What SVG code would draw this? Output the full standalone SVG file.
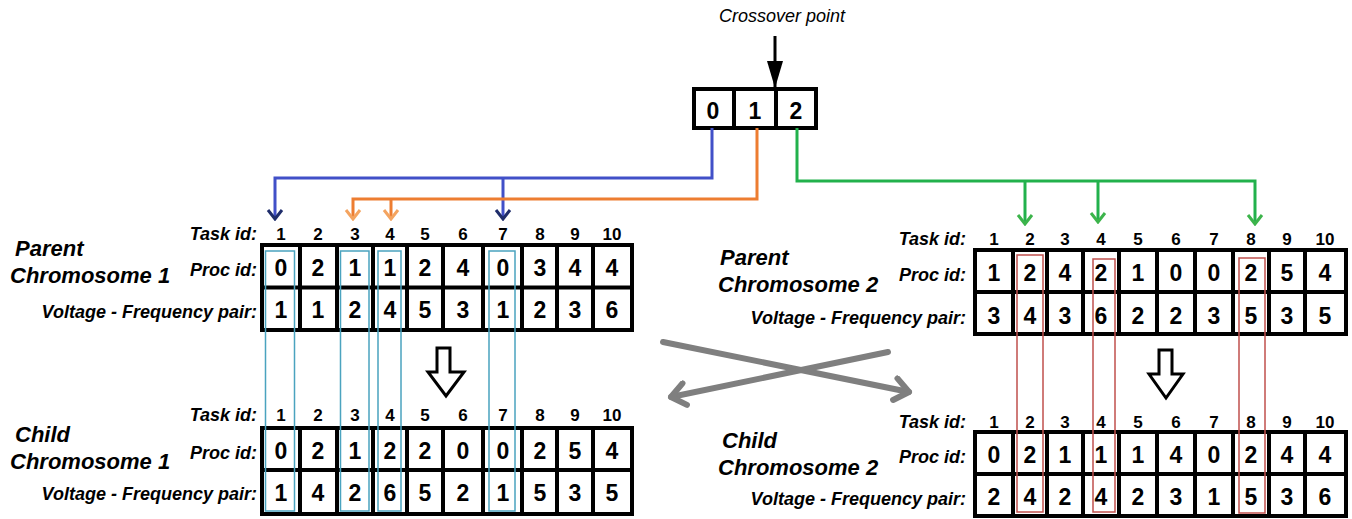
<svg xmlns="http://www.w3.org/2000/svg" width="1352" height="519" viewBox="0 0 1352 519">
<style>
text{font-family:"Liberation Sans",Arial,sans-serif;fill:#000}
.lbl{font-size:18px;font-weight:bold;font-style:italic;text-anchor:end}
.title{font-size:22px;font-weight:bold;font-style:italic}
.hd{font-size:17px;font-weight:bold;text-anchor:middle}
.cv{font-size:23px;font-weight:bold;text-anchor:middle}
.grid{fill:#fff;stroke:#000;stroke-width:4}
.gl{stroke:#000;stroke-width:4}
.cy{fill:none;stroke:#4aa3bf;stroke-width:1.5}
.rd{fill:none;stroke:#c0504d;stroke-width:1.5}
.blk{fill:#fff;stroke:#000;stroke-width:3;stroke-linejoin:miter}
.gr{stroke:#7f7f7f;stroke-width:6;stroke-linecap:round;fill:none}
</style>
<defs>
<marker id="mNavy" markerUnits="userSpaceOnUse" viewBox="-12 -9 14 18" refX="0" refY="0" markerWidth="14" markerHeight="18" orient="auto"><path d="M-9,-7 L0,0 L-9,7" fill="none" stroke="#1f2d6b" stroke-width="3"/></marker>
<marker id="mOr" markerUnits="userSpaceOnUse" viewBox="-12 -9 14 18" refX="0" refY="0" markerWidth="14" markerHeight="18" orient="auto"><path d="M-9,-7 L0,0 L-9,7" fill="none" stroke="#f4a460" stroke-width="3"/></marker>
<marker id="mGr" markerUnits="userSpaceOnUse" viewBox="-12 -9 14 18" refX="0" refY="0" markerWidth="14" markerHeight="18" orient="auto"><path d="M-9,-7 L0,0 L-9,7" fill="none" stroke="#3cb44b" stroke-width="3"/></marker>
<marker id="mBlack" markerUnits="userSpaceOnUse" viewBox="-28 -9 30 18" refX="0" refY="0" markerWidth="30" markerHeight="18" orient="auto"><path d="M-27,-8 L0,0 L-27,8 Z" fill="#000"/></marker>
<marker id="mGrey" markerUnits="userSpaceOnUse" viewBox="-20 -14 24 28" refX="0" refY="0" markerWidth="24" markerHeight="28" orient="auto"><path d="M-14,-11 L0,0 L-14,11" fill="none" stroke="#7f7f7f" stroke-width="6" stroke-linecap="round" stroke-linejoin="round"/></marker>
</defs>

<g id="crossover">
<text x="782" y="22" style="font-size:18px;font-style:italic;text-anchor:middle">Crossover point</text>
<rect x="694" y="89" width="122" height="39" class="grid"/>
<line x1="734" y1="89" x2="734" y2="128" class="gl"/>
<line x1="776" y1="89" x2="776" y2="128" class="gl"/>
<text x="713" y="119" class="cv">0</text>
<text x="755" y="119" class="cv">1</text>
<text x="796" y="119" class="cv">2</text>
</g>

<g id="connectors">
<line x1="775" y1="36" x2="775" y2="88" stroke="#000" stroke-width="3" marker-end="url(#mBlack)"/>
<path d="M712,128 V178 H275 V219" fill="none" stroke="#4150c8" stroke-width="3" marker-end="url(#mNavy)"/>
<path d="M503,178 V219" fill="none" stroke="#4150c8" stroke-width="3" marker-end="url(#mNavy)"/>
<path d="M757,128 V199 H353 V219" fill="none" stroke="#ed7d31" stroke-width="3" marker-end="url(#mOr)"/>
<path d="M391,199 V219" fill="none" stroke="#ed7d31" stroke-width="3" marker-end="url(#mOr)"/>
<path d="M797,128 V181 H1255 V224" fill="none" stroke="#22b14c" stroke-width="3" marker-end="url(#mGr)"/>
<path d="M1025,181 V224" fill="none" stroke="#22b14c" stroke-width="3" marker-end="url(#mGr)"/>
<path d="M1098,181 V222" fill="none" stroke="#22b14c" stroke-width="3" marker-end="url(#mGr)"/>
<line x1="663" y1="342" x2="909" y2="392" class="gr" marker-end="url(#mGrey)"/>
<line x1="888" y1="352" x2="671" y2="397" class="gr" marker-end="url(#mGrey)"/>
</g>

<g id="parent1">
<text x="15" y="256" class="title">Parent</text>
<text x="10" y="283" class="title">Chromosome 1</text>
<text x="257" y="240" class="lbl">Task id:</text>
<text x="257" y="276" class="lbl">Proc id:</text>
<text x="257" y="318" class="lbl">Voltage - Frequency pair:</text>
<text x="281" y="240" class="hd">1</text><text x="318" y="240" class="hd">2</text><text x="355" y="240" class="hd">3</text><text x="390" y="240" class="hd">4</text><text x="425" y="240" class="hd">5</text><text x="463" y="240" class="hd">6</text><text x="503" y="240" class="hd">7</text><text x="540" y="240" class="hd">8</text><text x="575" y="240" class="hd">9</text><text x="612" y="240" class="hd">10</text>
<rect x="262" y="245" width="370" height="85" class="grid"/>
<path d="M262,287.5 H632 M300,245 V330 M337,245 V330 M373,245 V330 M407,245 V330 M443,245 V330 M483,245 V330 M522,245 V330 M557,245 V330 M593,245 V330" class="gl"/>
<text x="281" y="276" class="cv">0</text><text x="318" y="276" class="cv">2</text><text x="355" y="276" class="cv">1</text><text x="390" y="276" class="cv">1</text><text x="425" y="276" class="cv">2</text><text x="463" y="276" class="cv">4</text><text x="503" y="276" class="cv">0</text><text x="540" y="276" class="cv">3</text><text x="575" y="276" class="cv">4</text><text x="612" y="276" class="cv">4</text>
<text x="281" y="318" class="cv">1</text><text x="318" y="318" class="cv">1</text><text x="355" y="318" class="cv">2</text><text x="390" y="318" class="cv">4</text><text x="425" y="318" class="cv">5</text><text x="463" y="318" class="cv">3</text><text x="503" y="318" class="cv">1</text><text x="540" y="318" class="cv">2</text><text x="575" y="318" class="cv">3</text><text x="612" y="318" class="cv">6</text>
</g>

<g id="child1">
<text x="15" y="442" class="title">Child</text>
<text x="10" y="469" class="title">Chromosome 1</text>
<text x="257" y="421" class="lbl">Task id:</text>
<text x="257" y="459" class="lbl">Proc id:</text>
<text x="257" y="500" class="lbl">Voltage - Frequency pair:</text>
<text x="281" y="421" class="hd">1</text><text x="318" y="421" class="hd">2</text><text x="355" y="421" class="hd">3</text><text x="390" y="421" class="hd">4</text><text x="425" y="421" class="hd">5</text><text x="463" y="421" class="hd">6</text><text x="503" y="421" class="hd">7</text><text x="540" y="421" class="hd">8</text><text x="575" y="421" class="hd">9</text><text x="612" y="421" class="hd">10</text>
<rect x="262" y="428" width="370" height="86" class="grid"/>
<path d="M262,470 H632 M300,428 V514 M337,428 V514 M373,428 V514 M407,428 V514 M443,428 V514 M483,428 V514 M522,428 V514 M557,428 V514 M593,428 V514" class="gl"/>
<text x="281" y="459" class="cv">0</text><text x="318" y="459" class="cv">2</text><text x="355" y="459" class="cv">1</text><text x="390" y="459" class="cv">2</text><text x="425" y="459" class="cv">2</text><text x="463" y="459" class="cv">0</text><text x="503" y="459" class="cv">0</text><text x="540" y="459" class="cv">2</text><text x="575" y="459" class="cv">5</text><text x="612" y="459" class="cv">4</text>
<text x="281" y="501" class="cv">1</text><text x="318" y="501" class="cv">4</text><text x="355" y="501" class="cv">2</text><text x="390" y="501" class="cv">6</text><text x="425" y="501" class="cv">5</text><text x="463" y="501" class="cv">2</text><text x="503" y="501" class="cv">1</text><text x="540" y="501" class="cv">5</text><text x="575" y="501" class="cv">3</text><text x="612" y="501" class="cv">5</text>
</g>

<g id="parent2">
<text x="720" y="265" class="title">Parent</text>
<text x="718" y="292" class="title">Chromosome 2</text>
<text x="966" y="245" class="lbl">Task id:</text>
<text x="966" y="281" class="lbl">Proc id:</text>
<text x="966" y="324" class="lbl">Voltage - Frequency pair:</text>
<text x="994" y="245" class="hd">1</text><text x="1030" y="245" class="hd">2</text><text x="1065" y="245" class="hd">3</text><text x="1101" y="245" class="hd">4</text><text x="1138" y="245" class="hd">5</text><text x="1176" y="245" class="hd">6</text><text x="1214" y="245" class="hd">7</text><text x="1251" y="245" class="hd">8</text><text x="1287" y="245" class="hd">9</text><text x="1325" y="245" class="hd">10</text>
<rect x="975" y="250" width="371" height="84" class="grid"/>
<path d="M975,292 H1346 M1013,250 V334 M1047,250 V334 M1083,250 V334 M1119,250 V334 M1157,250 V334 M1195,250 V334 M1233,250 V334 M1269,250 V334 M1305,250 V334" class="gl"/>
<text x="994" y="281" class="cv">1</text><text x="1030" y="281" class="cv">2</text><text x="1065" y="281" class="cv">4</text><text x="1101" y="281" class="cv">2</text><text x="1138" y="281" class="cv">1</text><text x="1176" y="281" class="cv">0</text><text x="1214" y="281" class="cv">0</text><text x="1251" y="281" class="cv">2</text><text x="1287" y="281" class="cv">5</text><text x="1325" y="281" class="cv">4</text>
<text x="994" y="324" class="cv">3</text><text x="1030" y="324" class="cv">4</text><text x="1065" y="324" class="cv">3</text><text x="1101" y="324" class="cv">6</text><text x="1138" y="324" class="cv">2</text><text x="1176" y="324" class="cv">2</text><text x="1214" y="324" class="cv">3</text><text x="1251" y="324" class="cv">5</text><text x="1287" y="324" class="cv">3</text><text x="1325" y="324" class="cv">5</text>
</g>

<g id="child2">
<text x="722" y="448" class="title">Child</text>
<text x="718" y="475" class="title">Chromosome 2</text>
<text x="966" y="428" class="lbl">Task id:</text>
<text x="966" y="463" class="lbl">Proc id:</text>
<text x="966" y="505" class="lbl">Voltage - Frequency pair:</text>
<text x="994" y="428" class="hd">1</text><text x="1030" y="428" class="hd">2</text><text x="1065" y="428" class="hd">3</text><text x="1101" y="428" class="hd">4</text><text x="1138" y="428" class="hd">5</text><text x="1176" y="428" class="hd">6</text><text x="1214" y="428" class="hd">7</text><text x="1251" y="428" class="hd">8</text><text x="1287" y="428" class="hd">9</text><text x="1325" y="428" class="hd">10</text>
<rect x="975" y="432" width="371" height="84" class="grid"/>
<path d="M975,474 H1346 M1013,432 V516 M1047,432 V516 M1083,432 V516 M1119,432 V516 M1157,432 V516 M1195,432 V516 M1233,432 V516 M1269,432 V516 M1305,432 V516" class="gl"/>
<text x="994" y="463" class="cv">0</text><text x="1030" y="463" class="cv">2</text><text x="1065" y="463" class="cv">1</text><text x="1101" y="463" class="cv">1</text><text x="1138" y="463" class="cv">1</text><text x="1176" y="463" class="cv">4</text><text x="1214" y="463" class="cv">0</text><text x="1251" y="463" class="cv">2</text><text x="1287" y="463" class="cv">4</text><text x="1325" y="463" class="cv">4</text>
<text x="994" y="505" class="cv">2</text><text x="1030" y="505" class="cv">4</text><text x="1065" y="505" class="cv">2</text><text x="1101" y="505" class="cv">4</text><text x="1138" y="505" class="cv">2</text><text x="1176" y="505" class="cv">3</text><text x="1214" y="505" class="cv">1</text><text x="1251" y="505" class="cv">5</text><text x="1287" y="505" class="cv">3</text><text x="1325" y="505" class="cv">6</text>
</g>

<g id="highlights1">
<rect x="265.5" y="251" width="29" height="260" class="cy"/>
<rect x="340.5" y="251" width="28.5" height="260" class="cy"/>
<rect x="378" y="251" width="23" height="260" class="cy"/>
<rect x="489" y="251" width="26" height="260" class="cy"/>
</g>
<g id="highlights2">
<rect x="1017" y="255" width="26" height="257" class="rd"/>
<rect x="1093" y="259" width="22" height="253" class="rd"/>
<rect x="1239" y="258" width="26" height="255" class="rd"/>
</g>

<g id="down-arrow-1">
<polygon points="437,348 450,348 450,372 464,372 446,396 428,372 437,372" class="blk"/>
</g>
<g id="down-arrow-2">
<polygon points="1159,350 1172,350 1172,374 1183,374 1166,398 1149,374 1159,374" class="blk"/>
</g>
</svg>
